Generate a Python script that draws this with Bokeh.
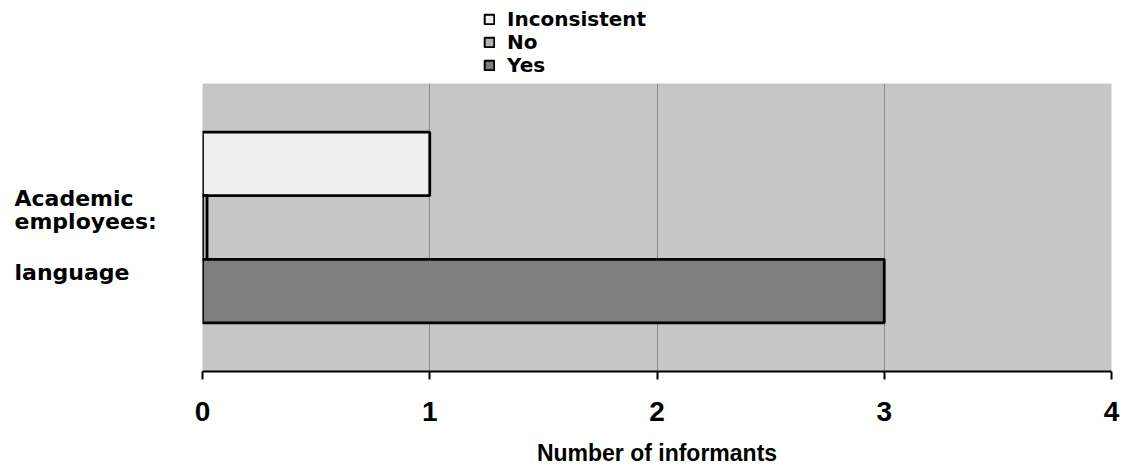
from bokeh.plotting import figure
from bokeh.layouts import row, column
from bokeh.models import FactorRange, Range1d, FixedTicker, Legend, LegendItem, ColumnDataSource
from bokeh.core.properties import value
from bokeh.embed import file_html
from bokeh.resources import INLINE

# ---- data ----
category = "Academic employees: language"
series = ["Inconsistent", "No", "Yes"]
values = [1, 0.02, 3]
x_ticks = [0, 1, 2, 3, 4]
label_lines = ["Academic", "employees:", "language"]

# ---- styles ----
colors = ["#efefef", "#b2b2b2", "#7e7e7e"]
label_y = [1.95, 1.595, 0.80]     # positions of the category text lines
label_x = [14, 14, 14]
legend_vy = [52, 29, 6]            # legend rows, px from bottom of top strip

factors = [(category, s) for s in reversed(series)]
y_range = FactorRange(factors=factors, range_padding=0.765, range_padding_units="absolute")

TOP_H = 83
H = 468 - TOP_H
LEFT_W = 192
MAIN_PAD = 10
MAIN_W = 922 + MAIN_PAD
BOTTOM = 93

main = figure(width=MAIN_W, height=H, output_backend="svg", toolbar_location=None,
              y_range=y_range, x_range=Range1d(0, 4),
              min_border_left=MAIN_PAD, min_border_right=13, min_border_top=0,
              min_border_bottom=BOTTOM)

for s, v, c in zip(series, values, colors):
    main.hbar(y=[(category, s)], left=0, right=[v], height=1.0,
              fill_color=c, line_color="black", line_width=2.8)

main.xaxis.ticker = FixedTicker(ticks=x_ticks)
main.xaxis.major_label_text_font = "Liberation Sans"
main.xaxis.major_label_text_font_size = "28px"
main.xaxis.major_label_text_font_style = "bold"
main.xaxis.major_label_text_color = "black"
main.xaxis.axis_line_color = "black"
main.xaxis.axis_line_width = 2
main.xaxis.major_tick_line_color = "black"
main.xaxis.major_tick_line_width = 2
main.xaxis.major_tick_out = 8
main.xaxis.major_tick_in = 0
main.xaxis.minor_tick_out = 0
main.xaxis.minor_tick_in = 0
main.xaxis.major_label_standoff = 22
main.xaxis.axis_label = "Number of informants"
main.xaxis.axis_label_text_font = "Liberation Sans"
main.xaxis.axis_label_text_font_size = "23px"
main.xaxis.axis_label_text_font_style = "bold"
main.xaxis.axis_label_text_color = "black"
main.xaxis.axis_label_standoff = 16
main.yaxis.visible = False

main.xgrid.ticker = FixedTicker(ticks=x_ticks)
main.xgrid.grid_line_color = "#8a8a8a"
main.xgrid.grid_line_width = 1
main.ygrid.visible = False
main.outline_line_color = None
main.background_fill_color = "#c6c6c6"
main.border_fill_color = "white"

# left panel holding the category text
left = figure(width=LEFT_W, height=H, output_backend="svg", toolbar_location=None,
              y_range=y_range, x_range=Range1d(0, LEFT_W),
              min_border_left=0, min_border_right=0, min_border_top=0, min_border_bottom=BOTTOM)
src = ColumnDataSource(dict(x=label_x, y=label_y, text=label_lines))
left.text(x="x", y="y", text="text", source=src,
          text_font=value("DejaVu Sans"), text_font_style="bold",
          text_font_size="22px", text_baseline="alphabetic", text_align="left",
          text_color="black")
left.axis.visible = False
left.grid.visible = False
left.outline_line_color = None
left.background_fill_color = "white"
left.border_fill_color = "white"

# top panel holding the legend
TOP_W = LEFT_W + MAIN_W
top = figure(width=TOP_W, height=TOP_H, output_backend="svg", toolbar_location=None,
             x_range=Range1d(0, TOP_W), y_range=Range1d(0, TOP_H), min_border=0)
for s, v, c, vy in zip(series, values, colors, legend_vy):
    r = top.hbar(y=[0], left=0, right=[v], height=1.0, visible=False,
                 fill_color=c, line_color="black", line_width=2)
    lg = Legend(items=[LegendItem(label=s, renderers=[r])], location=(483, vy),
                orientation="vertical", padding=0, margin=0, spacing=0,
                glyph_width=12, glyph_height=12, label_standoff=12, label_height=21,
                label_text_font="DejaVu Sans", label_text_font_style="bold",
                label_text_font_size="20px", label_text_color="black",
                border_line_color=None, background_fill_alpha=0)
    top.add_layout(lg, "center")
top.axis.visible = False
top.grid.visible = False
top.outline_line_color = None
top.background_fill_color = "white"
top.border_fill_color = "white"

layout = column(top, row(left, main, spacing=0), spacing=0)
open("out.html", "w").write(file_html(layout, INLINE))
